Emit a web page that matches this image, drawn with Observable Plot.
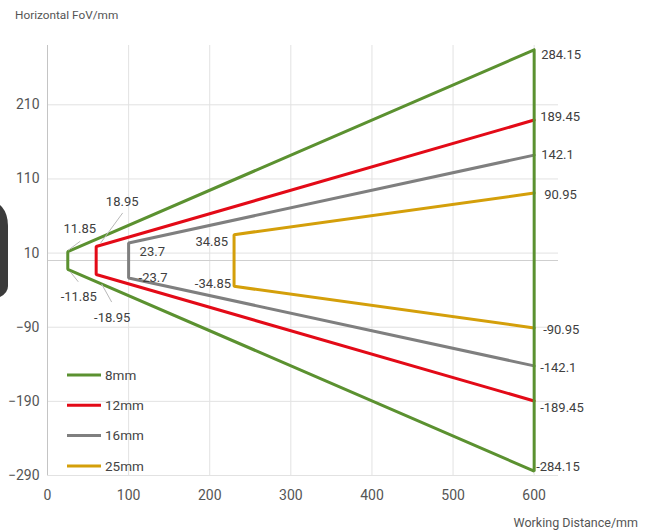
<!DOCTYPE html>
<html><head><meta charset="utf-8">
<script src="https://cdn.jsdelivr.net/npm/d3@7"></script>
<script src="https://cdn.jsdelivr.net/npm/@observablehq/plot@0.6"></script>
<style>body{margin:0;background:#fff;}</style>
</head><body><div id="chart"></div>
<script>
// ---- data ----
const lenses = ["8mm", "12mm", "16mm", "25mm"];
const nearDistance = [25, 60, 100, 230];
const nearFov = [11.85, 18.95, 23.7, 34.85];
const farDistance = 600;
const farFov = [284.15, 189.45, 142.1, 90.95];
const colors = ["#5b9130", "#e30a17", "#7f7f7f", "#d49f0a"];
const xTicks = [0, 100, 200, 300, 400, 500, 600];
const yTicks = [-290, -190, -90, 10, 110, 210];
const xTitle = "Working Distance/mm";
const yTitle = "Horizontal FoV/mm";

// ---- derived tables ----
const order = [3, 2, 1, 0]; // draw 8mm last
const paths = [];
order.forEach(i => {
  const pts = [
    {lens: lenses[i], x: farDistance, y: farFov[i]},
    {lens: lenses[i], x: nearDistance[i], y: nearFov[i]},
    {lens: lenses[i], x: nearDistance[i], y: -nearFov[i]},
    {lens: lenses[i], x: farDistance, y: -farFov[i]}
  ];
  if (i === 0) pts.push({lens: lenses[i], x: farDistance, y: farFov[i]});
  paths.push(...pts);
});

// label styling (pixel offsets)
const nearStyle = [
  {top: {dx: 12, dy: -23, a: "middle"}, bot: {dx: 11, dy: 28, a: "middle"}},
  {top: {dx: 26, dy: -45, a: "middle"}, bot: {dx: 16, dy: 43, a: "middle"}},
  {top: {dx: 11, dy: 9, a: "start"}, bot: {dx: 10, dy: 0, a: "start"}},
  {top: {dx: -6, dy: 7, a: "end"}, bot: {dx: -3, dy: -3, a: "end"}}
];
const farStyle = [
  {top: {dx: 7, dy: 5}, bot: {dx: 2, dy: -4}},
  {top: {dx: 6, dy: -3}, bot: {dx: 6, dy: 7}},
  {top: {dx: 7, dy: 0}, bot: {dx: 6, dy: 2}},
  {top: {dx: 10, dy: 2}, bot: {dx: 9, dy: 2}}
];
const leaderStyle = [
  {top: [1, -1, 13, -10], bot: [3, 3, 11, 13]},
  {top: [5, -3, 27, -33], bot: [6, 10, 16, 28]}
];

const labelFont = {fontFamily: "Roboto", fontSize: 13, fill: "#404040"};
const textMarks = [];
lenses.forEach((l, i) => {
  const ns = nearStyle[i], fs = farStyle[i];
  textMarks.push(
    Plot.text([{x: nearDistance[i], y: nearFov[i]}], {x: "x", y: "y", text: d => String(nearFov[i]), dx: ns.top.dx, dy: ns.top.dy, textAnchor: ns.top.a, ...labelFont}),
    Plot.text([{x: nearDistance[i], y: -nearFov[i]}], {x: "x", y: "y", text: d => String(-nearFov[i]), dx: ns.bot.dx, dy: ns.bot.dy, textAnchor: ns.bot.a, ...labelFont}),
    Plot.text([{x: farDistance, y: farFov[i]}], {x: "x", y: "y", text: d => String(farFov[i]), dx: fs.top.dx, dy: fs.top.dy, textAnchor: "start", ...labelFont}),
    Plot.text([{x: farDistance, y: -farFov[i]}], {x: "x", y: "y", text: d => String(-farFov[i]), dx: fs.bot.dx, dy: fs.bot.dy, textAnchor: "start", ...labelFont})
  );
});

// leader lines, legend, titles, decorative edge shape
function overlay(index, scales, values, dim) {
  const g = d3.create("svg:g");
  const X = scales.x, Y = scales.y;
  leaderStyle.forEach((s, i) => {
    const px = X(nearDistance[i]);
    [["top", nearFov[i]], ["bot", -nearFov[i]]].forEach(([k, v]) => {
      const py = Y(v), o = s[k];
      g.append("line").attr("x1", px + o[0]).attr("y1", py + o[1])
        .attr("x2", px + o[2]).attr("y2", py + o[3])
        .attr("stroke", "#b8b8b8").attr("stroke-width", 1);
    });
  });
  // legend
  const bottom = dim.height - dim.marginBottom;
  const lx = dim.marginLeft + 20;
  const spacing = 30.3;
  lenses.forEach((l, i) => {
    const y = bottom - 100 + i * spacing;
    g.append("line").attr("x1", lx).attr("x2", lx + 34).attr("y1", y).attr("y2", y)
      .attr("stroke", colors[i]).attr("stroke-width", 3);
    g.append("text").attr("x", lx + 38).attr("y", y).attr("dy", "0.35em")
      .attr("text-anchor", "start")
      .attr("font-family", "Roboto").attr("font-size", 13.5).attr("fill", "#444").text(l);
  });
  // titles
  g.append("text").attr("x", 15).attr("y", 15).attr("dy", "0.35em")
    .attr("text-anchor", "start")
    .attr("font-family", "Roboto").attr("font-size", 11.8).attr("fill", "#555").text(yTitle);
  g.append("text").attr("x", dim.width - 16).attr("y", dim.height - 9).attr("dy", "0.35em")
    .attr("text-anchor", "end")
    .attr("font-family", "Roboto").attr("font-size", 12.5).attr("fill", "#555").text(xTitle);
  // cropped dark object at left edge
  g.append("path").attr("d", "M0,205 L2,207 Q8,214 8,226 L8,286 Q8,293 0,297 Z").attr("fill", "#3b3b3b");
  return g.node();
}

const chart = Plot.plot({
  width: 654,
  height: 532,
  marginLeft: 47,
  marginRight: 96,
  marginTop: 45,
  marginBottom: 57,
  style: {fontFamily: "Roboto", background: "#fff", color: "#444"},
  x: {domain: [0, 630]},
  y: {domain: [-290, 290]},
  color: {domain: lenses, range: colors},
  marks: [
    Plot.gridX(xTicks, {stroke: "#e2e2e2", strokeOpacity: 1}),
    Plot.gridY(yTicks, {stroke: "#e2e2e2", strokeOpacity: 1}),
    Plot.ruleY([0], {stroke: "#cfcfcf"}),
    Plot.ruleX([0], {stroke: "#c4c4c4"}),
    Plot.axisX(xTicks, {tickSize: 0, tickPadding: 15, fontSize: 14, label: null, fill: "#555"}),
    Plot.axisY(yTicks, {tickSize: 0, tickPadding: 8, fontSize: 14, label: null, fill: "#555"}),
    Plot.line(paths, {x: "x", y: "y", z: "lens", stroke: "lens", strokeWidth: 3, strokeLinejoin: "miter", curve: "linear"}),
    ...textMarks,
    overlay
  ]
});
document.getElementById("chart").appendChild(chart);
</script>
</body></html>
